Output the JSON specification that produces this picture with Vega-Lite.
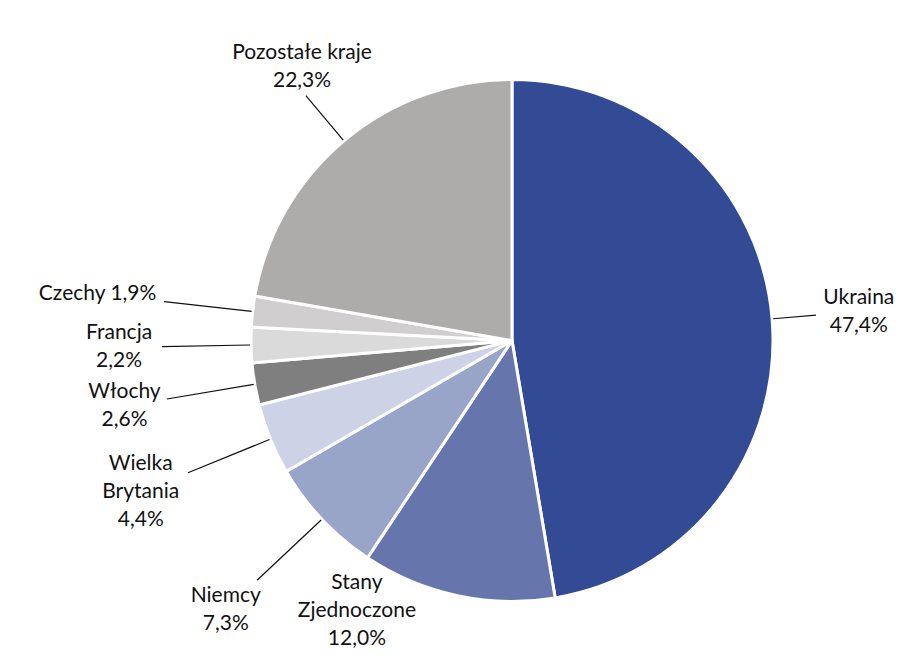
{
  "$schema": "https://vega.github.io/schema/vega-lite/v6.json",
  "width": 800,
  "height": 629,
  "autosize": {"type": "none"},
  "padding": {"left": 112, "top": 26, "right": 0, "bottom": 0},
  "background": "white",
  "config": {"view": {"stroke": null}, "text": {"font": "Lato", "fontSize": 21, "lineHeight": 28}},
  "data": {
    "values": [
      {"country": "Ukraina", "value": 47.4, "label": "Ukraina\n47,4%"},
      {"country": "Stany Zjednoczone", "value": 12.0, "label": "Stany\nZjednoczone\n12,0%"},
      {"country": "Niemcy", "value": 7.3, "label": "Niemcy\n7,3%"},
      {"country": "Wielka Brytania", "value": 4.4, "label": "Wielka\nBrytania\n4,4%"},
      {"country": "Włochy", "value": 2.6, "label": "Włochy\n2,6%"},
      {"country": "Francja", "value": 2.2, "label": "Francja\n2,2%"},
      {"country": "Czechy", "value": 1.9, "label": "Czechy 1,9%"},
      {"country": "Pozostałe kraje", "value": 22.3, "label": "Pozostałe kraje\n22,3%"}
    ]
  },
  "transform": [{"window": [{"op": "row_number", "as": "rank"}]}],
  "encoding": {
    "theta": {"field": "value", "type": "quantitative", "stack": true},
    "order": {"field": "rank", "type": "quantitative", "sort": "ascending"}
  },
  "layer": [
    {
      "mark": {"type": "arc", "radius": 261, "stroke": "white", "strokeWidth": 3},
      "encoding": {
        "color": {
          "field": "country",
          "type": "nominal",
          "scale": {
            "domain": ["Ukraina", "Stany Zjednoczone", "Niemcy", "Wielka Brytania", "Włochy", "Francja", "Czechy", "Pozostałe kraje"],
            "range": ["#334A94", "#6676AD", "#98A5C9", "#CDD2E6", "#7F7F7F", "#DADADA", "#D0CECE", "#AEABAB"]
          },
          "legend": null
        }
      }
    },
    {
      "mark": {"type": "arc", "radius": 305, "radius2": 262, "padAngle": 3.1416, "strokeWidth": 1.2, "fill": "transparent", "stroke": "#111111"},
      "encoding": {
        "strokeOpacity": {"condition": {"test": "datum.country === 'Ukraina'", "value": 1}, "value": 0}
      }
    },
    {
      "mark": {"type": "arc", "radius": 350, "radius2": 262, "padAngle": 3.1416, "strokeWidth": 1.2, "fill": "transparent", "stroke": "#111111"},
      "encoding": {
        "strokeOpacity": {"condition": {"test": "indexof(['Niemcy','Wielka Brytania','Włochy','Francja','Czechy'], datum.country) >= 0", "value": 1}, "value": 0}
      }
    },
    {
      "mark": {"type": "arc", "radius": 320, "radius2": 262, "padAngle": 3.1416, "strokeWidth": 1.2, "fill": "transparent", "stroke": "#111111"},
      "encoding": {
        "strokeOpacity": {"condition": {"test": "datum.country === 'Pozostałe kraje'", "value": 1}, "value": 0}
      }
    },
    {
      "mark": {"type": "text", "radius": 348, "dy": -14, "align": "center", "baseline": "middle", "lineBreak": "\n", "color": "#111111"},
      "encoding": {
        "text": {"field": "label"},
        "opacity": {"condition": {"test": "datum.country === 'Ukraina'", "value": 1}, "value": 0}
      }
    },
    {
      "mark": {"type": "text", "radius": 393, "dy": -14, "align": "center", "baseline": "middle", "lineBreak": "\n", "color": "#111111"},
      "encoding": {
        "text": {"field": "label"},
        "opacity": {"condition": {"test": "indexof(['Niemcy','Włochy','Francja'], datum.country) >= 0", "value": 1}, "value": 0}
      }
    },
    {
      "mark": {"type": "text", "radius": 401, "dy": -28, "align": "center", "baseline": "middle", "lineBreak": "\n", "color": "#111111"},
      "encoding": {
        "text": {"field": "label"},
        "opacity": {"condition": {"test": "datum.country === 'Wielka Brytania'", "value": 1}, "value": 0}
      }
    },
    {
      "mark": {"type": "text", "radius": 417, "align": "center", "baseline": "middle", "lineBreak": "\n", "color": "#111111"},
      "encoding": {
        "text": {"field": "label"},
        "opacity": {"condition": {"test": "datum.country === 'Czechy'", "value": 1}, "value": 0}
      }
    },
    {
      "mark": {"type": "text", "radius": 326, "dy": -28, "align": "center", "baseline": "bottom", "lineBreak": "\n", "color": "#111111"},
      "encoding": {
        "text": {"field": "label"},
        "opacity": {"condition": {"test": "datum.country === 'Pozostałe kraje'", "value": 1}, "value": 0}
      }
    },
    {
      "mark": {"type": "text", "radius": 312, "thetaOffset": 0.31, "dy": -28, "align": "center", "baseline": "middle", "lineBreak": "\n", "color": "#111111"},
      "encoding": {
        "text": {"field": "label"},
        "opacity": {"condition": {"test": "datum.country === 'Stany Zjednoczone'", "value": 1}, "value": 0}
      }
    }
  ]
}
